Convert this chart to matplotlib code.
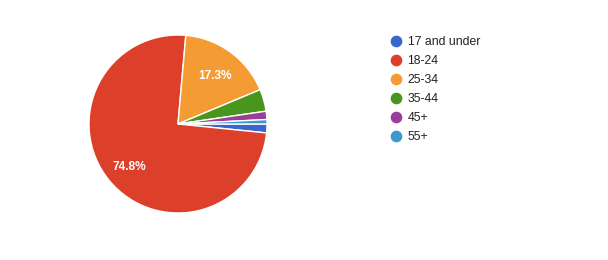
import matplotlib.pyplot as plt
import matplotlib.transforms as mtransforms
from matplotlib.lines import Line2D

# 年龄段分布数据（按原图从 3 点钟方向顺时针排列）
categories = ["17 and under", "18-24", "25-34", "35-44", "45+", "55+"]
shares = [1.6, 74.8, 17.3, 4.0, 1.5, 0.8]
colors = ["#3a66cc", "#dc402a", "#f59b34", "#48961e", "#993f99", "#3c99cc"]

W, H = 608, 260

plt.rcParams["font.family"] = ["Liberation Sans", "DejaVu Sans"]

fig = plt.figure(figsize=(W / 100, H / 100), dpi=100)
ax = fig.add_axes([0, 0, 1, 1])

wedges, texts, autotexts = ax.pie(
    shares,
    colors=colors,
    center=(178, H - 124),
    radius=89,
    startangle=0,
    counterclock=False,
    autopct=lambda p: f"{p:.1f}%" if p > 10 else "",
    pctdistance=0.71,
    wedgeprops={"edgecolor": "white", "linewidth": 1.0},
    textprops={"color": "white", "fontsize": 8.6, "fontweight": "bold"},
    frame=True,
)
ax.set_xlim(0, W)
ax.set_ylim(0, H)
ax.set_aspect("equal")
ax.axis("off")

# 百分比标签略微下移，贴近原图位置
shift = mtransforms.offset_copy(ax.transData, fig=fig, x=0, y=-3, units="dots")
for t in autotexts:
    t.set_transform(shift)

# 图例：右侧圆点 + 文字
handles = [
    Line2D([0], [0], marker="o", linestyle="", markersize=7.4,
           markerfacecolor=c, markeredgecolor=c)
    for c in colors
]
leg = ax.legend(
    handles,
    categories,
    loc="upper left",
    bbox_to_anchor=(391 / W, 1 - 36 / H),
    frameon=False,
    fontsize=8.8,
    handlelength=0.8,
    handletextpad=0.55,
    labelspacing=0.58,
    borderpad=0,
    borderaxespad=0,
)
for t in leg.get_texts():
    t.set_color("#222222")

fig.savefig("out.png", dpi=100)
